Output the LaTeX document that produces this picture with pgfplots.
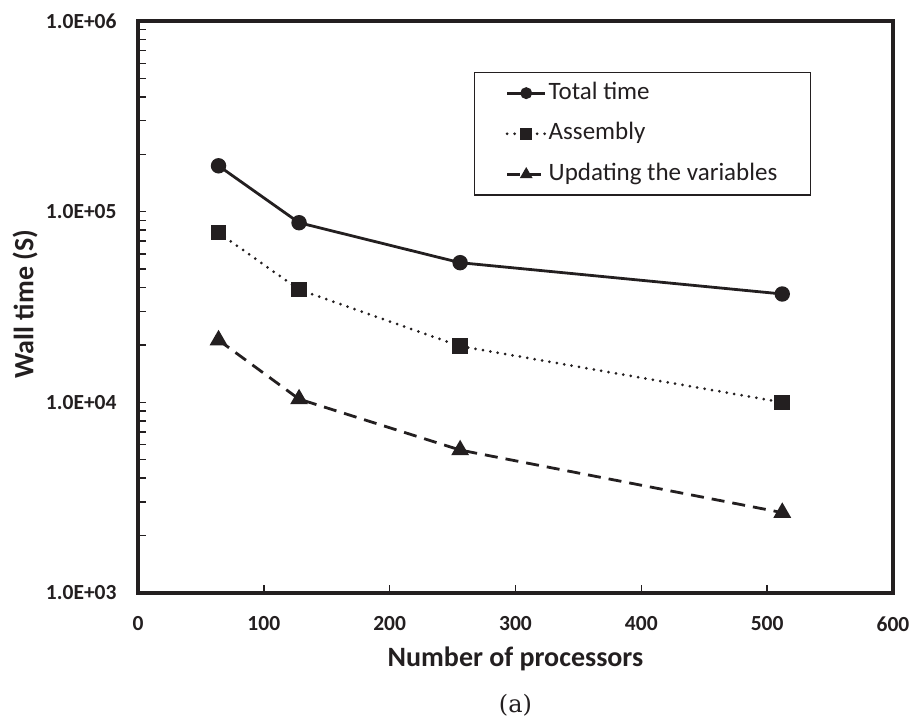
\documentclass[border=0pt]{standalone}
\usepackage{fontspec}
\setmainfont{Carlito}
\newfontfamily\capfont{DejaVu Serif}
\usepackage{pgfplots}
\pgfplotsset{compat=1.18}
\definecolor{ink}{RGB}{35,31,32}
\begin{document}
\begin{tikzpicture}[x=1pt,y=1pt]
\useasboundingbox (0,0) rectangle (913,721);
\begin{axis}[
  at={(138pt,128pt)}, anchor=south west,
  scale only axis, width=755pt, height=572pt,
  xmin=0, xmax=600, ymin=1000, ymax=1000000, ymode=log, log basis y=10,
  xtick={0,100,200,300,400,500,600},
  xticklabels={0,100,200,300,400,500,600},
  ytick={1000,10000,100000,1000000},
  yticklabels={1.0E+03,1.0E+04,1.0E+05,1.0E+06},
  minor ytick={2000,3000,4000,5000,6000,7000,8000,9000,20000,30000,40000,50000,60000,70000,80000,90000,200000,300000,400000,500000,600000,700000,800000,900000},
  tick align=inside, xtick pos=bottom, ytick pos=left,
  major tick length=8pt, minor tick length=8pt,
  tick style={line width=1.5pt, ink},
  axis line style={line width=3.2pt, ink},
  ticklabel style={font=\fontsize{21.5}{25}\selectfont\bfseries, text=ink},
  xticklabel style={anchor=north, inner sep=0pt, yshift=-23.7pt},
  yticklabel style={anchor=east, inner sep=0pt, xshift=-21.3pt},
  xlabel={Number of processors}, ylabel={Wall time (S)},
  label style={font=\fontsize{28}{32}\selectfont\bfseries, text=ink},
  xlabel style={at={(axis description cs:0.5,-0.12885)}, anchor=base, inner sep=0pt},
  ylabel style={at={(axis description cs:-0.1387,0.505)}, anchor=base, inner sep=0pt},
  legend style={at={(axis description cs:0.445,0.911)}, anchor=north west, draw=ink, line width=1.5pt,
    inner xsep=31pt, inner ysep=6.5pt, row sep=12.6pt, font=\fontsize{25}{29}\selectfont, text=ink,
    nodes={inner sep=2pt, text height=18pt, text depth=6pt}},
  legend cell align=left,
  legend image code/.code={
    \draw[mark repeat=2, mark phase=2, #1, mark size=4.5pt] plot coordinates {(0pt,0pt) (19pt,0pt) (38pt,0pt)};
  },
]
\addplot[ink, line width=2.8pt, mark=*, mark size=6.3pt, mark options={solid}]
  coordinates {(64,174000) (128,87500) (256,54000) (512,37000)};
\addlegendentry{Total time}
\addplot[ink, line width=3pt, line cap=round, dash pattern=on 0pt off 7.5pt, mark=square*, mark size=6.3pt, mark options={solid}]
  coordinates {(64,77600) (128,39000) (256,19700) (512,10000)};
\addlegendentry{Assembly}
\addplot[ink, line width=2.8pt, dash pattern=on 13pt off 8pt, mark=triangle*, mark size=7.5pt, mark options={solid}]
  coordinates {(64,21200) (128,10400) (256,5620) (512,2640)};
\addlegendentry{Updating the variables}
\end{axis}
\node[font=\capfont\fontsize{24}{28}\selectfont, inner sep=0pt, text=ink] at (515.5,15.5) {(a)};
\end{tikzpicture}
\end{document}
